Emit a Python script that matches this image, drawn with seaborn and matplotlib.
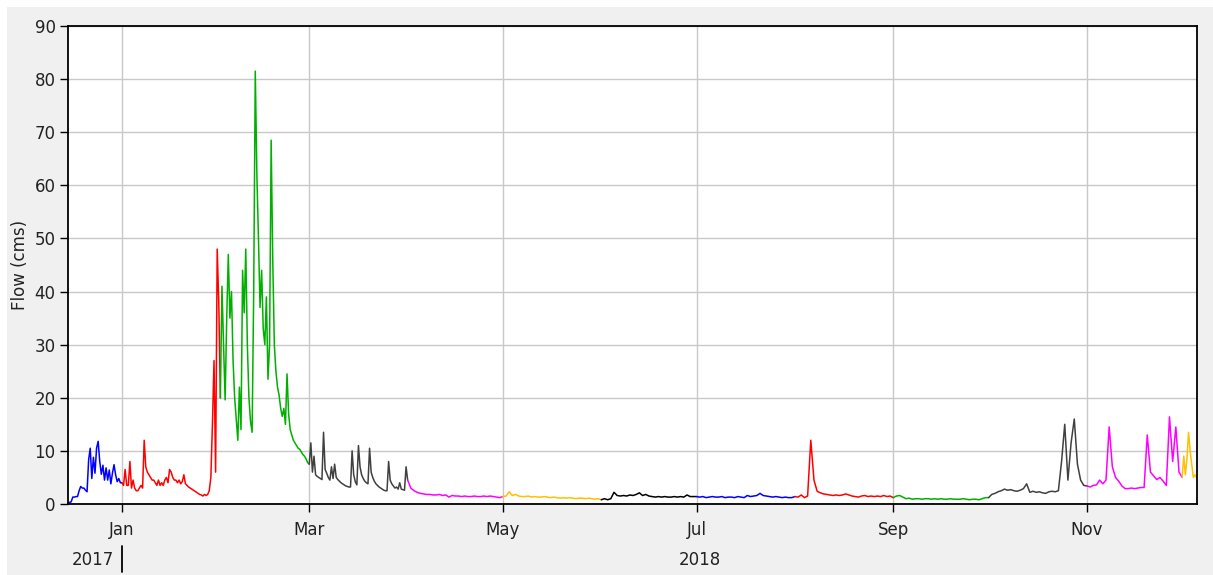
import pandas as pd
import seaborn as sns
import matplotlib.pyplot as plt
import matplotlib.dates as mdates
from matplotlib.patches import Rectangle
from matplotlib.transforms import blended_transform_factory

# flow in cms, one list per monthly segment (12-hourly in the wet months, daily otherwise)
dec17 = [0.3, 0.3, 0.4, 1.3, 1.3, 1.4, 1.4, 2.5, 3.3, 3.0, 3.0, 2.6, 2.3, 8.3, 10.5, 4.8, 8.8,
         5.8, 10.5, 11.8, 8.0, 5.6, 7.3, 4.5, 6.8, 4.5, 6.4, 3.8, 5.8, 7.4, 5.5, 4.2, 4.8, 4.0]
jan18 = [4.0, 3.5, 6.5, 3.5, 3.5, 8.0, 3.0, 4.5, 3.0, 2.5, 2.5, 3.0, 3.5, 3.0, 12.0, 7.0,
         6.0, 5.5, 5.0, 4.5, 4.5, 4.0, 3.5, 4.5, 3.5, 4.0, 3.5, 4.5, 5.0, 4.0, 6.5, 6.0,
         5.0, 4.5, 4.5, 4.0, 4.5, 3.8, 4.2, 5.5, 3.8, 3.5, 3.2, 3.0, 2.8, 2.6, 2.4, 2.2,
         2.0, 1.8, 1.7, 1.5, 1.8, 1.6, 1.8, 2.5, 5.0, 15.0, 27.0, 6.0, 48.0, 38.0]
feb18 = [20, 41, 30, 19.6, 35, 47, 35, 40, 27, 20, 16, 12, 22, 14, 44, 36, 48, 30, 20, 15.5,
         13.5, 40, 81.5, 62, 50, 37, 44, 33, 30, 39, 23.5, 30, 68.5, 46, 30, 25, 22, 20.5,
         18, 16.5, 18, 15, 24.5, 17, 14, 13, 12, 11.5, 11, 10.5, 10.3, 9.8, 9.3, 9.0, 8.5, 7.8]
mar18 = [7.5, 11.5, 6.0, 9.0, 5.5, 5.2, 5.0, 4.8, 4.6, 13.5, 6.5, 5.8, 5.0, 4.5, 7.0, 4.8,
         7.5, 5.0, 4.6, 4.3, 4.0, 3.8, 3.6, 3.4, 3.3, 3.2, 3.2, 10.0, 5.5, 4.2, 3.6, 11.0,
         7.0, 5.5, 4.8, 4.3, 4.0, 3.8, 10.5, 6.0, 5.0, 4.3, 3.8, 3.5, 3.2, 3.0, 2.8, 2.6,
         2.5, 2.5, 8.0, 4.5, 3.8, 3.4, 3.0, 3.2, 2.8, 4.0, 2.8, 2.7, 2.6, 7.0]
apr18 = [4.5, 3.0, 2.5, 2.2, 2.0, 1.9, 1.8, 1.8, 1.7, 1.7, 1.8, 1.6, 1.7, 1.3, 1.6, 1.5,
         1.5, 1.4, 1.5, 1.4, 1.4, 1.5, 1.4, 1.4, 1.5, 1.4, 1.5, 1.4, 1.3, 1.2]
may18 = [1.4, 1.5, 2.3, 1.6, 1.8, 1.5, 1.4, 1.4, 1.5, 1.3, 1.4, 1.3, 1.3, 1.4, 1.3, 1.2,
         1.3, 1.2, 1.1, 1.2, 1.1, 1.2, 1.1, 1.0, 1.1, 1.1, 1.0, 1.1, 1.0, 0.9, 1.0]
jun18 = [0.8, 1.0, 0.8, 1.0, 2.2, 1.6, 1.5, 1.6, 1.5, 1.7, 1.6, 1.8, 2.1, 1.6, 1.8, 1.5,
         1.4, 1.3, 1.4, 1.3, 1.4, 1.3, 1.3, 1.4, 1.3, 1.4, 1.3, 1.7, 1.4, 1.4]
jul18 = [1.4, 1.3, 1.4, 1.2, 1.3, 1.4, 1.3, 1.3, 1.4, 1.2, 1.3, 1.3, 1.2, 1.4, 1.3, 1.2,
         1.6, 1.4, 1.5, 1.6, 2.0, 1.6, 1.5, 1.4, 1.3, 1.4, 1.3, 1.2, 1.3, 1.2, 1.2]
aug18 = [1.4, 1.3, 1.7, 1.2, 1.5, 12.0, 4.5, 2.4, 2.1, 1.9, 1.8, 1.7, 1.6, 1.7, 1.6, 1.7,
         1.9, 1.7, 1.5, 1.4, 1.3, 1.5, 1.6, 1.4, 1.5, 1.4, 1.5, 1.4, 1.6, 1.4, 1.5]
sep18 = [1.2, 1.5, 1.6, 1.3, 1.0, 1.1, 0.9, 1.0, 1.0, 0.9, 1.0, 1.0, 0.9, 1.0, 0.9, 1.0,
         0.9, 0.9, 1.0, 0.9, 0.9, 0.9, 1.0, 0.9, 0.8, 0.9, 0.9, 0.8, 1.0, 1.2]
oct18 = [1.2, 1.8, 2.0, 2.3, 2.5, 2.8, 2.6, 2.7, 2.5, 2.4, 2.6, 2.9, 3.8, 2.2, 2.4, 2.2,
         2.3, 2.1, 2.0, 2.3, 2.4, 2.3, 2.5, 8.0, 15.0, 4.5, 11.5, 16.0, 7.5, 4.5, 3.5]
nov18 = [3.4, 3.2, 3.5, 3.6, 4.5, 3.8, 4.5, 14.5, 7.0, 5.0, 4.3, 3.4, 2.9, 2.9, 3.0, 2.9,
         3.0, 3.1, 3.1, 13.0, 6.0, 5.3, 4.6, 5.0, 4.3, 3.5, 16.4, 8.0, 14.5, 6.0]
dec18 = [5.0, 9.0, 5.5, 8.5, 13.5, 10.0, 7.5, 5.0, 5.5, 5.0]

segments = [dec17, jan18, feb18, mar18, apr18, may18, jun18, jul18, aug18, sep18, oct18, nov18, dec18]
seg_starts = ["2017-12-15", "2018-01-01", "2018-02-01", "2018-03-01", "2018-04-01", "2018-05-01",
              "2018-06-01", "2018-07-01", "2018-08-01", "2018-09-01", "2018-10-01", "2018-11-01",
              "2018-12-01"]
seg_freqs = ["12h", "12h", "12h", "12h", "D", "D", "D", "D", "D", "D", "D", "D", "12h"]
tick_months = ["2018-01-01", "2018-03-01", "2018-05-01", "2018-07-01", "2018-09-01", "2018-11-01"]

colors = ["#0000ff", "#ff0000", "#00b000", "#404040", "#ff00ff", "#ffc000", "#000000"]

frames = []
for k, (start, freq, vals) in enumerate(zip(seg_starts, seg_freqs, segments)):
    t = pd.date_range(start, periods=len(vals), freq=freq)
    frames.append(pd.DataFrame({"time": t, "flow": vals, "seg": "s%02d" % k}))
# carry each segment on to the first point of the next so the trace stays joined
links = []
for k in range(len(frames) - 1):
    first = frames[k + 1].iloc[[0]].copy()
    first["seg"] = "s%02d" % k
    links.append(first)
df = pd.concat(frames + links, ignore_index=True)
palette = {"s%02d" % k: colors[k % len(colors)] for k in range(len(segments))}

sns.set_theme(style="white")
plt.rcParams['font.family'] = ['DejaVu Sans']

W, H = 1213, 575
fig = plt.figure(figsize=(W / 100, H / 100), dpi=100)
fig.patch.set_facecolor("white")
fig.add_artist(Rectangle((7 / W, 0), 1 - 7 / W, 1 - 7 / H, transform=fig.transFigure,
                         facecolor="#f0f0f0", edgecolor="none", zorder=-10))
ax = fig.add_axes([68 / W, 1 - 504 / H, (1197 - 68) / W, (504 - 26) / H])
ax.set_facecolor("white")

sns.lineplot(data=df, x="time", y="flow", hue="seg", palette=palette, estimator=None,
             legend=False, linewidth=1.1, ax=ax)

ax.set_ylim(0, 90)
ax.set_yticks(range(0, 91, 10))
ax.set_xlim(pd.Timestamp("2017-12-15"), pd.Timestamp("2018-12-05 16:00"))
ax.set_xticks(pd.to_datetime(tick_months))
ax.xaxis.set_major_formatter(mdates.DateFormatter("%b"))
ax.grid(True, color="#c8c8c8", linewidth=1.0)
ax.set_axisbelow(True)
for s in ax.spines.values():
    s.set_color("black")
    s.set_linewidth(1.3)
ax.tick_params(axis="both", bottom=True, left=True, direction="out", length=6, width=1,
               color="black", labelsize=12, labelcolor="#222222")
ax.tick_params(axis="x", pad=6)
ax.tick_params(axis="y", pad=3)
ax.set_xlabel("")
ax.set_ylabel("Flow (cms)", fontsize=12, color="#222222", labelpad=4)

# year row under the month labels
trans = blended_transform_factory(ax.transData, ax.transAxes)
jan1 = mdates.date2num(pd.Timestamp("2018-01-01"))
ax.text(jan1 - 2.5, -0.117, "2017", ha="right", va="center", fontsize=12,
        color="#222222", transform=trans)
ax.plot([jan1, jan1], [-0.088, -0.142], color="black", lw=1.3, transform=trans, clip_on=False)
ax.text(mdates.date2num(pd.Timestamp("2018-07-02")), -0.117, "2018", ha="center",
        va="center", fontsize=12, color="#222222", transform=trans)

fig.savefig("out.png", dpi=100)
